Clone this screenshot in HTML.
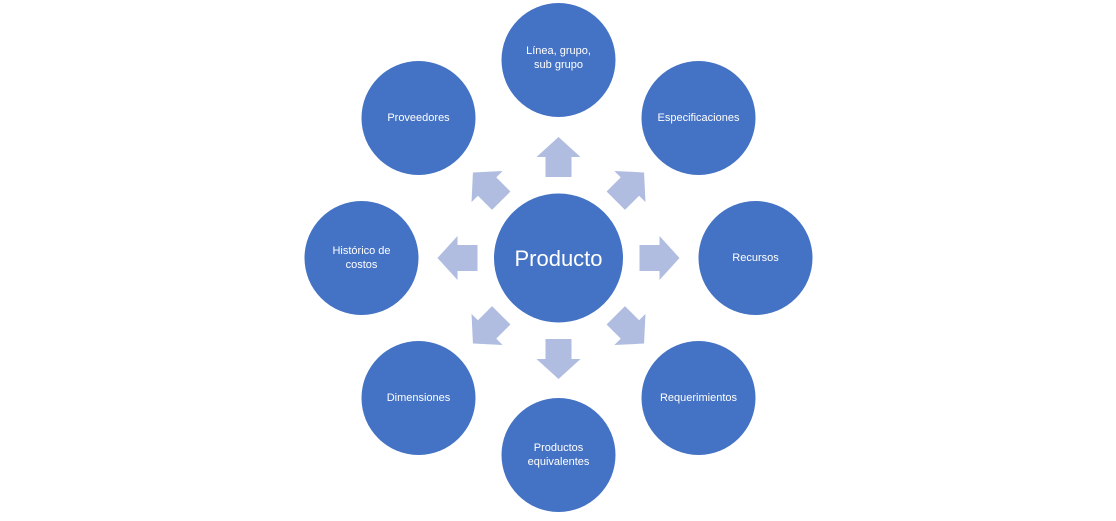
<!DOCTYPE html>
<html><head><meta charset="utf-8"><style>body{margin:0;background:#fff}</style></head><body>
<svg width="1116" height="516" xmlns="http://www.w3.org/2000/svg" font-family="Liberation Sans, sans-serif">
<g transform="translate(558.5,258)">
<g fill="#b0bde0">
<polygon id="a" points="-13,-81 13,-81 13,-101 22,-101 0,-121 -22,-101 -13,-101"/>
<use href="#a" transform="rotate(45)"/><use href="#a" transform="rotate(90)"/><use href="#a" transform="rotate(135)"/>
<use href="#a" transform="rotate(180)"/><use href="#a" transform="rotate(225)"/><use href="#a" transform="rotate(270)"/><use href="#a" transform="rotate(315)"/>
</g>
<g fill="#4472c4">
<circle r="64.5"/>
<circle cx="0" cy="-198" r="57"/><circle cx="140" cy="-140" r="57"/><circle cx="197" cy="0" r="57"/><circle cx="140" cy="140" r="57"/>
<circle cx="0" cy="197" r="57"/><circle cx="-140" cy="140" r="57"/><circle cx="-197" cy="0" r="57"/><circle cx="-140" cy="-140" r="57"/>
</g>
<g fill="#fff" text-anchor="middle" font-size="11">
<text y="8" font-size="22">Producto</text>
<text x="0" y="-204">Línea, grupo,</text><text x="0" y="-190">sub grupo</text>
<text x="140" y="-137">Especificaciones</text>
<text x="197" y="3">Recursos</text>
<text x="140" y="143">Requerimientos</text>
<text x="0" y="193">Productos</text><text x="0" y="207">equivalentes</text>
<text x="-140" y="143">Dimensiones</text>
<text x="-197" y="-4">Histórico de</text><text x="-197" y="10">costos</text>
<text x="-140" y="-137">Proveedores</text>
</g>
</g>
</svg>
</body></html>
